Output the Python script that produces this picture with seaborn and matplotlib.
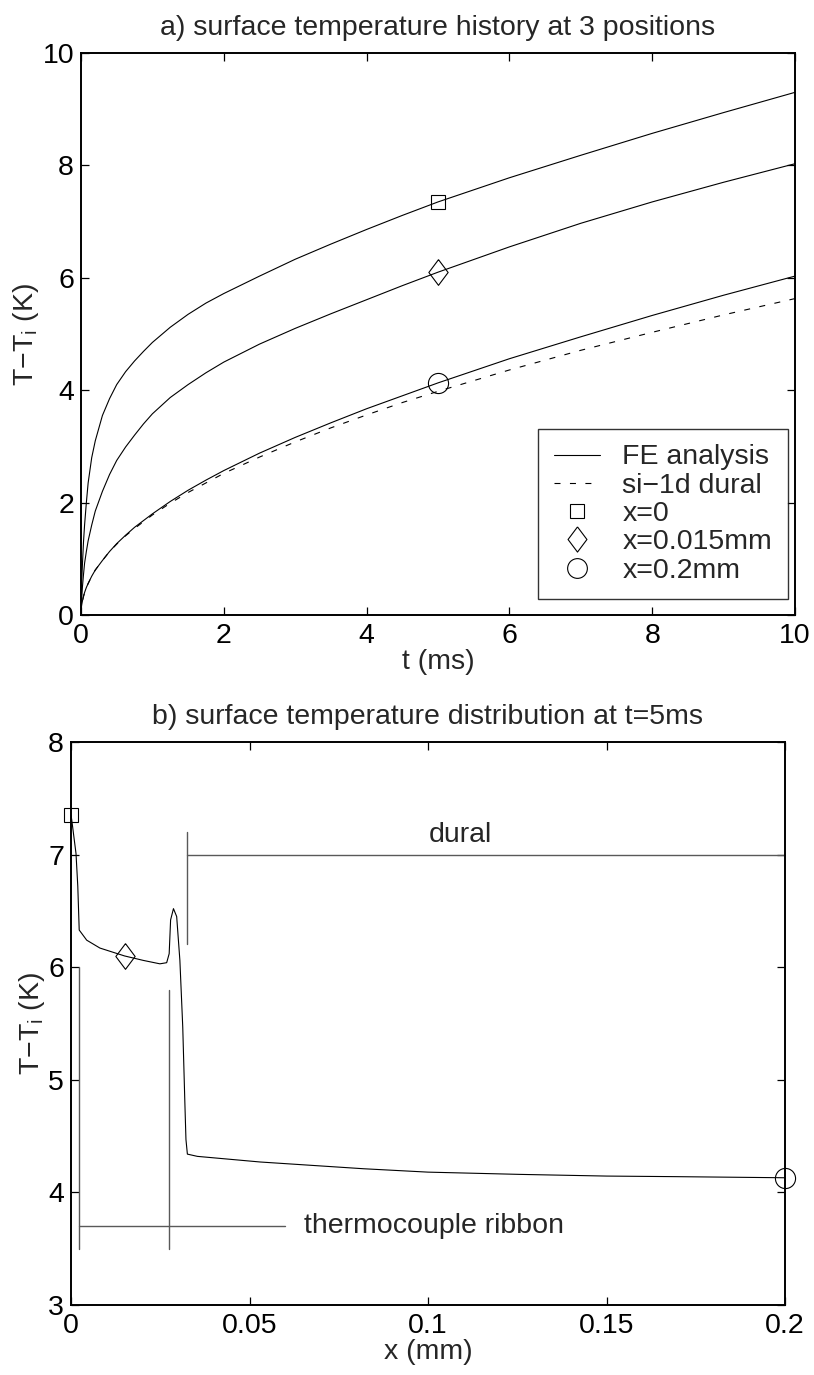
import matplotlib
matplotlib.use("Agg")
import matplotlib.pyplot as plt
from matplotlib.lines import Line2D
import pandas as pd
import seaborn as sns

# a) surface temperature history, t in ms, T-Ti in K
t_ms = [0, 0.005, 0.01, 0.02, 0.035, 0.05, 0.075, 0.1, 0.15, 0.2, 0.3, 0.4,
        0.5, 0.625, 0.75, 0.875, 1, 1.25, 1.5, 1.75, 2, 2.5, 3, 3.5, 4, 4.5,
        5, 6, 7, 8, 9, 10]
fe_x0 = [0, 0.4, 0.6, 0.9, 1.3, 1.6, 2.0, 2.35, 2.8, 3.1, 3.55, 3.85,
         4.1, 4.33, 4.52, 4.69, 4.85, 5.12, 5.35, 5.55, 5.72, 6.03, 6.33,
         6.6, 6.86, 7.11, 7.35, 7.78, 8.18, 8.57, 8.94, 9.3]
fe_x015 = [0, 0.2, 0.3, 0.5, 0.72, 0.92, 1.13, 1.32, 1.6, 1.85, 2.2, 2.5,
           2.75, 2.99, 3.2, 3.4, 3.58, 3.87, 4.1, 4.31, 4.5, 4.82, 5.1,
           5.36, 5.61, 5.86, 6.1, 6.55, 6.97, 7.35, 7.7, 8.03]
fe_x200 = [0, 0.13, 0.18, 0.25, 0.33, 0.4, 0.49, 0.56, 0.69, 0.8, 0.97,
           1.13, 1.27, 1.42, 1.56, 1.68, 1.8, 2.02, 2.22, 2.4, 2.57, 2.88,
           3.16, 3.42, 3.67, 3.9, 4.13, 4.56, 4.95, 5.33, 5.69, 6.03]
si1d_dural = [0, 0.13, 0.18, 0.25, 0.33, 0.4, 0.49, 0.56, 0.69, 0.8, 0.97,
              1.13, 1.26, 1.41, 1.54, 1.66, 1.78, 1.99, 2.18, 2.35, 2.52,
              2.81, 3.08, 3.33, 3.56, 3.78, 3.98, 4.36, 4.71, 5.03, 5.34,
              5.63]

# b) surface temperature distribution at t=5ms, x in mm
x_mm = [0, 0.0002, 0.0014, 0.0019, 0.0023, 0.0044, 0.0081, 0.015, 0.0203,
        0.0249, 0.0268, 0.0275, 0.0279, 0.0287, 0.0296, 0.0305, 0.0313,
        0.0319, 0.0322, 0.0326, 0.0354, 0.053, 0.082, 0.1, 0.1257, 0.15,
        0.169, 0.2]
fe_dist = [7.35, 7.31, 7.01, 6.72, 6.33, 6.24, 6.17, 6.10, 6.06, 6.03, 6.04,
           6.12, 6.42, 6.52, 6.45, 6.06, 5.47, 4.79, 4.47, 4.34, 4.32, 4.27,
           4.21, 4.18, 4.16, 4.145, 4.14, 4.13]

# the three monitored positions
pos_labels = ["x=0", "x=0.015mm", "x=0.2mm"]
pos_x_mm = [0, 0.015, 0.2]
pos_T_5ms = [7.35, 6.10, 4.13]
t_mark = 5

diamond = [(0, 1), (0.75, 0), (0, -1), (-0.75, 0), (0, 1)]
pos_markers = ["s", diamond, "o"]
pos_msize = [10.3, 18.5, 14.5]

FS = 20.5
DASH = (0, (5.4, 8.5))

sns.set_style("ticks")
plt.rcParams['font.family'] = ['Liberation Sans', 'DejaVu Sans']
plt.rcParams.update({
    'font.size': FS,
    'mathtext.fontset': 'custom',
    'mathtext.rm': 'Liberation Sans',
    'axes.linewidth': 1.4,
    'axes.edgecolor': 'black',
    'xtick.direction': 'in',
    'ytick.direction': 'in',
    'xtick.top': True,
    'ytick.right': True,
    'xtick.major.size': 5.5,
    'ytick.major.size': 5.5,
    'xtick.major.width': 0.9,
    'ytick.major.width': 0.9,
    'xtick.major.pad': 6,
    'ytick.major.pad': 5,
    'xtick.color': 'black',
    'ytick.color': 'black',
})

fig = plt.figure(figsize=(8.14, 13.75), dpi=100)
ax1 = fig.add_axes([81 / 814, 1 - 615 / 1375, 714 / 814, 562 / 1375])
ax2 = fig.add_axes([71 / 814, 1 - 1305 / 1375, 714 / 814, 563 / 1375])

ylab = "T\u2212T$_\\mathregular{i}$ (K)"

# ---- a) history
hist = pd.DataFrame({'t': t_ms, 'x0': fe_x0, 'x015': fe_x015,
                     'x200': fe_x200, 'si1d': si1d_dural})
for col in ['x0', 'x015', 'x200']:
    sns.lineplot(data=hist, x='t', y=col, ax=ax1, color='black',
                 linewidth=0.8, estimator=None)
sns.lineplot(data=hist, x='t', y='si1d', ax=ax1, color='black',
             linewidth=0.8, estimator=None)
ax1.lines[-1].set_linestyle(DASH)

for T, m, ms in zip(pos_T_5ms, pos_markers, pos_msize):
    ax1.plot([t_mark], [T], linestyle='none', marker=m, markersize=ms,
             markerfacecolor='none', markeredgecolor='black',
             markeredgewidth=0.8, clip_on=False)

ax1.set_xlim(0, 10)
ax1.set_ylim(0, 10)
ax1.set_xticks(range(0, 11, 2))
ax1.set_yticks(range(0, 11, 2))
ax1.set_title("a) surface temperature history at 3 positions", fontsize=FS,
              pad=13)
ax1.set_xlabel("t (ms)", labelpad=0)
ax1.set_ylabel(ylab, labelpad=1)

handles = [Line2D([], [], color='black', linewidth=0.8),
           Line2D([], [], color='black', linewidth=0.8, linestyle=DASH)]
for m, ms in zip(pos_markers, pos_msize):
    handles.append(Line2D([], [], linestyle='none', marker=m,
                          markersize=ms * 0.98, markerfacecolor='none',
                          markeredgecolor='black', markeredgewidth=0.8))
leg = ax1.legend(handles, ["FE analysis", "si\u22121d dural"] + pos_labels,
                 loc='lower right', bbox_to_anchor=(0.99, 0.028),
                 borderaxespad=0, fontsize=FS, handlelength=1.6,
                 handletextpad=0.8, labelspacing=0.08, borderpad=0.55,
                 fancybox=False, frameon=True)
leg.get_frame().set_edgecolor('black')
leg.get_frame().set_linewidth(1.0)

# ---- b) distribution
dist = pd.DataFrame({'x': x_mm, 'T': fe_dist})
sns.lineplot(data=dist, x='x', y='T', ax=ax2, color='black', linewidth=0.8,
             estimator=None, sort=False)
for xm, T, m, ms in zip(pos_x_mm, pos_T_5ms, pos_markers, pos_msize):
    ax2.plot([xm], [T], linestyle='none', marker=m, markersize=ms,
             markerfacecolor='none', markeredgecolor='black',
             markeredgewidth=0.8, clip_on=False)

# region annotations
grey = '0.35'
ax2.plot([0.0324, 0.0324], [6.21, 7.2], color=grey, linewidth=1.0)
ax2.plot([0.0324, 0.2], [7.0, 7.0], color=grey, linewidth=1.0)
ax2.text(0.109, 7.06, "dural", ha='center', va='bottom', fontsize=FS)
ax2.plot([0.0023, 0.0023], [3.5, 6.0], color=grey, linewidth=1.0)
ax2.plot([0.0275, 0.0275], [3.5, 5.8], color=grey, linewidth=1.0)
ax2.plot([0.0023, 0.06], [3.7, 3.7], color=grey, linewidth=1.0)
ax2.text(0.0653, 3.7, "thermocouple ribbon", ha='left', va='center',
         fontsize=FS)

ax2.set_xlim(0, 0.2)
ax2.set_ylim(3, 8)
ax2.set_xticks([0, 0.05, 0.1, 0.15, 0.2])
ax2.set_xticklabels(["0", "0.05", "0.1", "0.15", "0.2"])
ax2.set_yticks(range(3, 9))
ax2.set_title("b) surface temperature distribution at t=5ms", fontsize=FS,
              pad=13)
ax2.set_xlabel("x (mm)", labelpad=0)
ax2.set_ylabel(ylab, labelpad=1)

fig.savefig("out.png", dpi=100, facecolor='white')
